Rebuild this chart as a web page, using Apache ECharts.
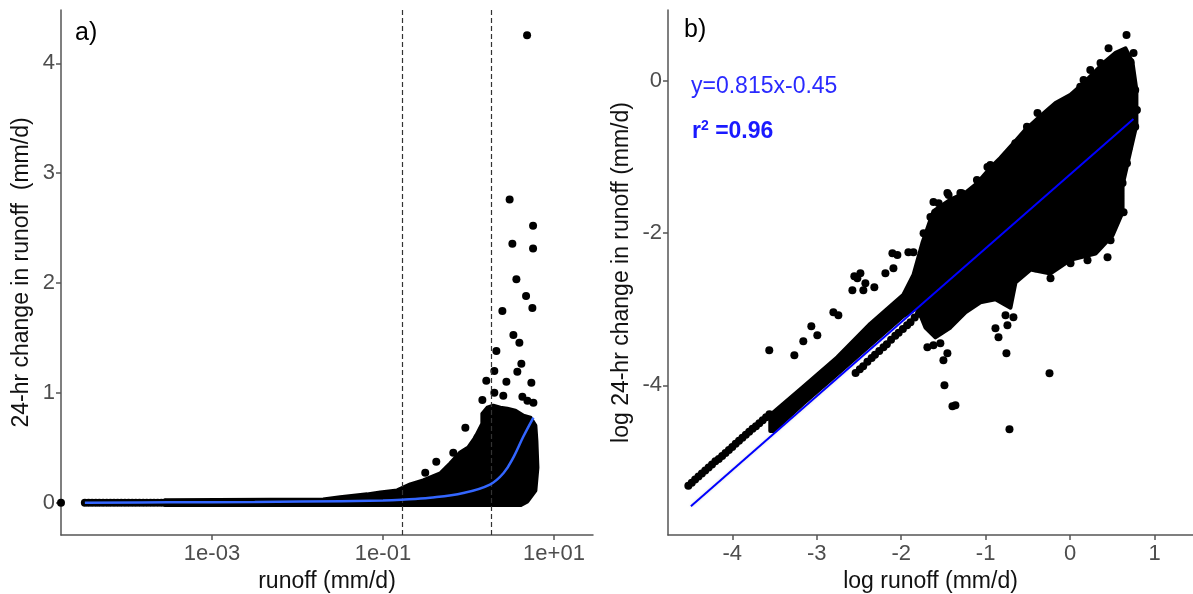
<!DOCTYPE html>
<html><head><meta charset="utf-8">
<script src="https://cdn.jsdelivr.net/npm/echarts@6/dist/echarts.min.js"></script>
<style>html,body{margin:0;padding:0;background:#fff}#c{width:1193px;height:594px}</style>
</head><body><div id="c"></div>
<script>
// ===================== DATA =====================
// ---- Panel a: x values stored as log10(runoff, mm/d); y = 24-hr change (mm/d)
const aTicksXLog = [-3, -1, 1];
const aTicksY = [0, 1, 2, 3, 4];
const aZeroLogX = [-4.766];            // runoff = 0 record, drawn at the panel edge
const aZeroY = [0];
const aRowLogX = [-4.487,-4.444,-4.402,-4.359,-4.317,-4.274,-4.231,-4.189,-4.146,-4.104,-4.061,-4.018,-3.976,-3.933,-3.891,-3.848,-3.805,-3.763,-3.72,-3.678,-3.635,-3.592,-3.55];
const aRowY = aRowLogX.map(() => 0);
// outline of the dense (fully overlapping) point cloud
const aCoreLogX = [-3.55,-1.70,-1.501,-1.185,-1.033,-0.834,-0.681,-0.529,-0.33,-0.213,-0.096,-0.002,0.08,0.162,0.162,0.22,0.29,0.372,0.454,0.548,0.642,0.724,0.782,0.794,0.806,0.782,0.689,0.607,-3.55];
const aCoreY    = [0.022,0.03,0.05,0.076,0.094,0.112,0.167,0.203,0.267,0.358,0.458,0.503,0.594,0.72,0.81,0.865,0.883,0.865,0.856,0.838,0.792,0.775,0.702,0.566,0.32,0.11,0.012,-0.022,-0.022];
// isolated points
const aOutLogX = [0.685,0.481,0.755,0.513,0.755,0.560,0.673,0.747,0.396,0.525,0.595,0.326,0.302,0.618,0.571,0.208,0.443,0.735,0.302,0.407,0.162,0.630,0.689,0.759,-0.037,0.103,-0.178,-0.377,-0.506,0.712];
const aOutY    = [4.255,2.761,2.521,2.357,2.315,2.033,1.882,1.773,1.745,1.527,1.455,1.382,1.2,1.264,1.191,1.109,1.1,1.091,1.0,0.973,0.936,0.964,0.927,0.909,0.682,0.591,0.455,0.373,0.273,0.136];
// smooth (loess) curve
const aSmoothLogX = [-4.487,-3.5,-2.5,-1.97,-1.0,-0.78,-0.45,-0.06,0.25,0.41,0.53,0.64,0.759];
const aSmoothY    = [0,0.003,0.006,0.01,0.02,0.027,0.045,0.088,0.165,0.27,0.42,0.6,0.775];
// dashed cut-off lines (runoff, mm/d)
const aCutoffs = [0.168, 1.83];

// ---- Panel b: log10 runoff vs log10 24-hr change
const bTicksX = [-4, -3, -2, -1, 0, 1];
const bTicksY = [-4, -2, 0];
const bLowX = [-4.52,-4.48,-4.44,-4.40,-4.36,-4.32,-4.28,-4.24,-4.20,-4.16,-4.12,-4.08,-4.04,-4.00,-3.96,-3.92,-3.88,-3.84,-3.80,-3.76,-3.72,-3.68,-3.64,-3.60,-3.56];
const bLowY = [-5.32,-5.28,-5.24,-5.20,-5.16,-5.12,-5.08,-5.04,-5.00,-4.97,-4.93,-4.89,-4.85,-4.81,-4.77,-4.73,-4.69,-4.65,-4.61,-4.57,-4.54,-4.50,-4.46,-4.42,-4.38];
const bStreakX = [-2.54,-2.49,-2.45,-2.40,-2.35,-2.31,-2.26,-2.21,-2.17,-2.12,-2.07,-2.03,-1.98,-1.93,-1.89,-1.84,-1.79,-1.75,-1.70,-1.66];
const bStreakY = [-3.84,-3.79,-3.75,-3.69,-3.64,-3.60,-3.55,-3.50,-3.46,-3.40,-3.35,-3.31,-3.26,-3.21,-3.17,-3.11,-3.06,-3.02,-2.97,-2.93];
const bCoreX = [-3.55,-3.159,-2.756,-2.365,-1.974,-1.855,-1.749,-1.618,-1.417,-1.239,-1.097,-0.943,-0.825,-0.647,-0.528,-0.351,-0.173,0.005,0.159,0.301,0.419,0.538,0.656,0.739,0.785,0.785,
                0.716,0.621,0.621,0.502,0.301,0.005,-0.232,-0.469,-0.647,-0.706,-0.884,-1.062,-1.239,-1.417,-1.595,-1.713,-1.808,-1.974,-2.365,-2.756,-3.159,-3.514,-3.55];
const bCoreY = [-4.39,-4.02,-3.63,-3.19,-2.81,-2.55,-2.13,-1.71,-1.56,-1.47,-1.34,-1.14,-1.01,-0.79,-0.64,-0.46,-0.29,-0.18,-0.03,0.13,0.26,0.37,0.43,0.24,-0.118,-0.579,
                -0.908,-1.368,-1.724,-2.03,-2.27,-2.35,-2.53,-2.48,-2.65,-2.98,-2.87,-2.91,-3.04,-3.24,-3.37,-3.24,-2.98,-3.09,-3.47,-3.85,-4.24,-4.60,-4.60];
const bOutX = [-3.562,-3.265,-3.159,-3.064,-2.993,-2.803,-2.744,-2.578,-2.555,-2.483,-2.519,-2.448,-2.424,-2.318,-2.187,-2.092,-2.104,-2.045,-1.915,-1.855,
               0.668,0.751,0.716,0.360,0.159,-1.453,-1.299,-1.618,-1.654,-0.979,-0.386,
               0.692,0.621,0.633,0.479,0.443,0.206,0.005,-0.232,-0.410,-0.671,-0.765,
               -1.488,-1.393,-1.358,-0.718,-0.244,-0.754,-0.848,-0.884,-0.742,-1.5,-1.453,-1.69,-1.536,-1.618,
               -1.735,-1.557,-1.439,-1.280,-1.103,-0.945,-0.649,-0.511,-0.196,0.120,0.239,0.455,0.633,
               0.771,0.791,0.771,0.673,0.594,0.555];
const bOutY = [-3.539,-3.605,-3.421,-3.224,-3.342,-3.039,-3.079,-2.75,-2.566,-2.526,-2.592,-2.75,-2.658,-2.711,-2.526,-2.461,-2.263,-2.289,-2.25,-2.25,
               0.605,0.368,0.25,0.237,0.013,-1.474,-1.474,-1.592,-1.789,-1.132,-0.421,
               -0.882,-1.342,-1.724,-2.092,-2.316,-2.355,-2.395,-2.592,-2.461,-3.105,-3.079,
               -4.0,-4.276,-4.263,-4.579,-3.842,-3.579,-3.368,-3.25,-3.211,-3.671,-3.579,-3.5,-3.447,-3.474,
               -2.002,-1.608,-1.498,-1.476,-1.301,-1.104,-0.819,-0.601,-0.381,-0.075,0.145,0.430,0.233,
               -0.118,-0.381,-0.601,-1.082,-1.345,-1.608];
const bFitX = [-4.49, 0.75];
const bFitY = [-5.59, -0.50];

// ===================== CHART =====================
const FONT = "'Liberation Sans', Arial, sans-serif";
const AX = '#555', LAB = '#4d4d4d';
const TICK_FS = 22, TITLE_FS = 23;
const pow = x => Math.pow(10, x);
const zip = (xs, ys, fx) => xs.map((x, i) => [fx ? fx(x) : x, ys[i]]);
const expFmt = v => { const e = Math.round(Math.log10(v)); return '1e' + (e < 0 ? '-' : '+') + String(Math.abs(e)).padStart(2, '0'); };

function polygonSeries(xi, yi, xs, ys, fx) {
  return {
    type: 'custom', xAxisIndex: xi, yAxisIndex: yi, data: [[0, 0]], silent: true, z: 2,
    renderItem: (params, api) => ({
      type: 'polygon',
      shape: { points: xs.map((x, i) => api.coord([fx ? fx(x) : x, ys[i]])) },
      style: { fill: '#000', stroke: '#000', lineWidth: 4, lineJoin: 'round' }
    })
  };
}
const dot = (xi, yi, data) => ({ type: 'scatter', xAxisIndex: xi, yAxisIndex: yi, data, symbolSize: 8,
  itemStyle: { color: '#000', opacity: 1 }, silent: true, z: 3 });

const axisCommon = {
  axisLine: { onZero: false, lineStyle: { color: AX, width: 1.5 } },
  splitLine: { show: false },
  nameLocation: 'middle',
  nameTextStyle: { color: '#111', fontSize: TITLE_FS, fontFamily: FONT }
};
const tickStyle = vals => ({ customValues: vals, length: 5, lineStyle: { color: AX, width: 1.5 } });
const labelStyle = (vals, extra) => Object.assign({ customValues: vals, color: LAB, fontSize: TICK_FS, fontFamily: FONT, margin: 6 }, extra || {});

const option = {
  animation: false,
  grid: [
    { left: 61, top: 10, width: 532, height: 525, containLabel: false, outerBoundsMode: 'none' },
    { left: 668, top: 10, width: 525, height: 525, containLabel: false, outerBoundsMode: 'none' }
  ],
  xAxis: [
    Object.assign({}, axisCommon, {
      type: 'log', logBase: 10, gridIndex: 0, min: pow(-4.766), max: pow(1.456),
      axisTick: tickStyle(aTicksXLog.map(pow)),
      axisLabel: labelStyle(aTicksXLog.map(pow), { formatter: expFmt, margin: 8 }),
      name: 'runoff (mm/d)', nameGap: 34
    }),
    Object.assign({}, axisCommon, {
      type: 'value', gridIndex: 1, min: -4.761, max: 1.455,
      axisTick: tickStyle(bTicksX),
      axisLabel: labelStyle(bTicksX, { margin: 8 }),
      name: 'log runoff (mm/d)', nameGap: 34
    })
  ],
  yAxis: [
    Object.assign({}, axisCommon, {
      type: 'value', gridIndex: 0, min: -0.294, max: 4.485,
      axisTick: tickStyle(aTicksY),
      axisLabel: labelStyle(aTicksY),
      name: '24-hr change in runoff  (mm/d)', nameGap: 28
    }),
    Object.assign({}, axisCommon, {
      type: 'value', gridIndex: 1, min: -5.968, max: 0.933,
      axisTick: tickStyle(bTicksY),
      axisLabel: labelStyle(bTicksY),
      name: 'log 24-hr change in runoff (mm/d)', nameGap: 35
    })
  ],
  series: [
    // panel a
    { type: 'line', xAxisIndex: 0, yAxisIndex: 0, data: [], silent: true, z: 1,
      markLine: { symbol: 'none', silent: true, label: { show: false },
        lineStyle: { color: '#333', type: [5, 3], width: 1.2 },
        data: aCutoffs.map(v => ({ xAxis: v })) } },
    polygonSeries(0, 0, aCoreLogX, aCoreY, pow),
    dot(0, 0, zip(aZeroLogX, aZeroY, pow)),
    dot(0, 0, zip(aRowLogX, aRowY, pow)),
    dot(0, 0, zip(aOutLogX, aOutY, pow)),
    { type: 'line', xAxisIndex: 0, yAxisIndex: 0, data: zip(aSmoothLogX, aSmoothY, pow), smooth: 0.4,
      showSymbol: false, silent: true, z: 5, lineStyle: { color: '#3366ff', width: 2.5 } },
    // panel b
    polygonSeries(1, 1, bCoreX, bCoreY),
    dot(1, 1, zip(bLowX, bLowY)),
    dot(1, 1, zip(bStreakX, bStreakY)),
    dot(1, 1, zip(bOutX, bOutY)),
    { type: 'line', xAxisIndex: 1, yAxisIndex: 1, data: zip(bFitX, bFitY), showSymbol: false, silent: true, z: 5,
      lineStyle: { color: '#0000ff', width: 2, shadowColor: 'rgba(0,0,0,0.15)', shadowBlur: 3 } }
  ],
  graphic: [
    { type: 'text', left: 75, top: 21, style: { text: 'a)', fontSize: 25, fontFamily: FONT, fill: '#000' } },
    { type: 'text', left: 684, top: 18, style: { text: 'b)', fontSize: 25, fontFamily: FONT, fill: '#000' } },
    { type: 'text', left: 691, top: 75, style: { text: 'y=0.815x-0.45', fontSize: 23, fontFamily: FONT, fill: '#2a2aff' } },
    { type: 'text', left: 692, top: 119, style: {
        text: '{r|r}{s|2}{n| =0.96}', fontFamily: FONT, fill: '#1a1aff',
        rich: { r: { fontSize: 23, fontWeight: 'bold', fill: '#1a1aff', fontFamily: FONT },
                s: { fontSize: 14, fontWeight: 'bold', fill: '#1a1aff', verticalAlign: 'top', fontFamily: FONT, padding: [0, 0, 11, 0] },
                n: { fontSize: 23, fontWeight: 'bold', fill: '#1a1aff', fontFamily: FONT } } } }
  ]
};
const chart = echarts.init(document.getElementById('c'), null, { renderer: 'canvas' });
chart.setOption(option);
</script></body></html>
